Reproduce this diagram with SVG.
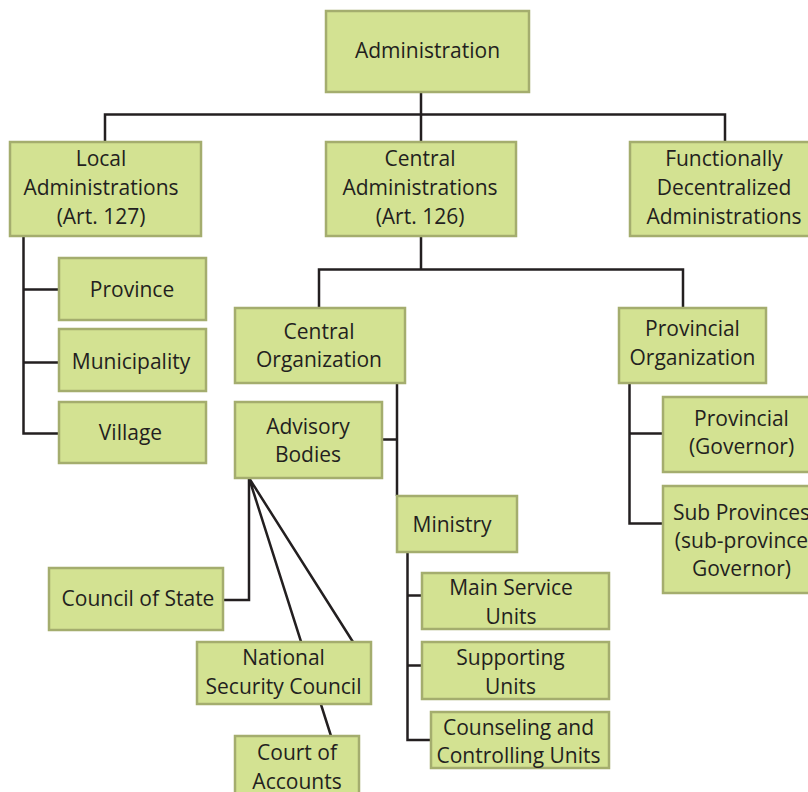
<svg xmlns="http://www.w3.org/2000/svg" width="808" height="792" viewBox="0 0 808 792">
<style>
.box{fill:#d3e292;stroke:#a4ad6e;stroke-width:2.5}
.t{font-family:"Open Sans","Liberation Sans",sans-serif;font-size:21px;fill:#231f20;text-anchor:middle}
.c{fill:none;stroke:#231f20;stroke-width:2.5}
</style>
<rect width="808" height="792" fill="#ffffff"/>
<g id="connectors" class="c">
<path d="M421,92 V142 M105,142 V114.5 H725 V142"/>
<path d="M23.5,236 V433.5 H59 M23.5,289.5 H59 M23.5,362.5 H59"/>
<path d="M421,236 V269.5 M319,308 V269.5 H683 V308"/>
<path d="M629.5,383 V523.5 H663 M629.5,433.5 H663"/>
<path d="M397,383 V496 M382,439.5 H397"/>
<path d="M407.5,552 V740 H431 M407.5,595.5 H422 M407.5,665.5 H422"/>
<path d="M223,600 H249 V478"/>
<path d="M249,478 L331,736 M249,478 L353,642"/>
</g>
<g id="n-administration"><rect class="box" x="326" y="11" width="203" height="81"/><text class="t" x="427.5" y="57.5">Administration</text></g>
<g id="n-local"><rect class="box" x="10" y="142" width="191" height="94"/><text class="t" x="101" y="166">Local</text><text class="t" x="101" y="195">Administrations</text><text class="t" x="101" y="223.5">(Art. 127)</text></g>
<g id="n-central"><rect class="box" x="326" y="142" width="190" height="94"/><text class="t" x="420" y="166">Central</text><text class="t" x="420" y="195">Administrations</text><text class="t" x="420" y="223.5">(Art. 126)</text></g>
<g id="n-functional"><rect class="box" x="630" y="142" width="190" height="94"/><text class="t" x="724" y="166">Functionally</text><text class="t" x="724" y="195">Decentralized</text><text class="t" x="724" y="223.5">Administrations</text></g>
<g id="n-province"><rect class="box" x="59" y="258" width="147" height="62"/><text class="t" x="132" y="297">Province</text></g>
<g id="n-municipality"><rect class="box" x="59" y="329" width="147" height="62"/><text class="t" x="131" y="368.5">Municipality</text></g>
<g id="n-village"><rect class="box" x="59" y="402" width="147" height="61"/><text class="t" x="130.5" y="440">Village</text></g>
<g id="n-central-org"><rect class="box" x="235" y="308" width="170" height="75"/><text class="t" x="319" y="338.5">Central</text><text class="t" x="319" y="366.5">Organization</text></g>
<g id="n-advisory"><rect class="box" x="235" y="402" width="147" height="76"/><text class="t" x="308" y="433.5">Advisory</text><text class="t" x="308" y="461.5">Bodies</text></g>
<g id="n-provincial-org"><rect class="box" x="619" y="308" width="147" height="75"/><text class="t" x="692.5" y="336">Provincial</text><text class="t" x="692.5" y="364.5">Organization</text></g>
<g id="n-provincial-gov"><rect class="box" x="663" y="397" width="158" height="75"/><text class="t" x="741.5" y="425.5">Provincial</text><text class="t" x="741.5" y="454">(Governor)</text></g>
<g id="n-sub-provinces"><rect class="box" x="663" y="486" width="158" height="107"/><text class="t" x="741.5" y="519.5">Sub Provinces</text><text class="t" x="741.5" y="547.5">(sub-province</text><text class="t" x="741.5" y="576">Governor)</text></g>
<g id="n-ministry"><rect class="box" x="397" y="496" width="120" height="56"/><text class="t" x="452" y="531.5">Ministry</text></g>
<g id="n-main-service"><rect class="box" x="422" y="573" width="187" height="56"/><text class="t" x="511" y="595">Main Service</text><text class="t" x="511" y="623.5">Units</text></g>
<g id="n-supporting"><rect class="box" x="422" y="642" width="187" height="57"/><text class="t" x="510.5" y="665">Supporting</text><text class="t" x="510.5" y="693.5">Units</text></g>
<g id="n-counseling"><rect class="box" x="431" y="712" width="178" height="56"/><text class="t" x="518.5" y="735">Counseling and</text><text class="t" x="518.5" y="762.5">Controlling Units</text></g>
<g id="n-council-state"><rect class="box" x="49" y="568" width="174" height="62"/><text class="t" x="138" y="606">Council of State</text></g>
<g id="n-nsc"><rect class="box" x="197" y="642" width="174" height="62"/><text class="t" x="283.5" y="665">National</text><text class="t" x="283.5" y="694">Security Council</text></g>
<g id="n-court"><rect class="box" x="235" y="736" width="124" height="70"/><text class="t" x="297" y="759.5">Court of</text><text class="t" x="297" y="788.5">Accounts</text></g>
</svg>
